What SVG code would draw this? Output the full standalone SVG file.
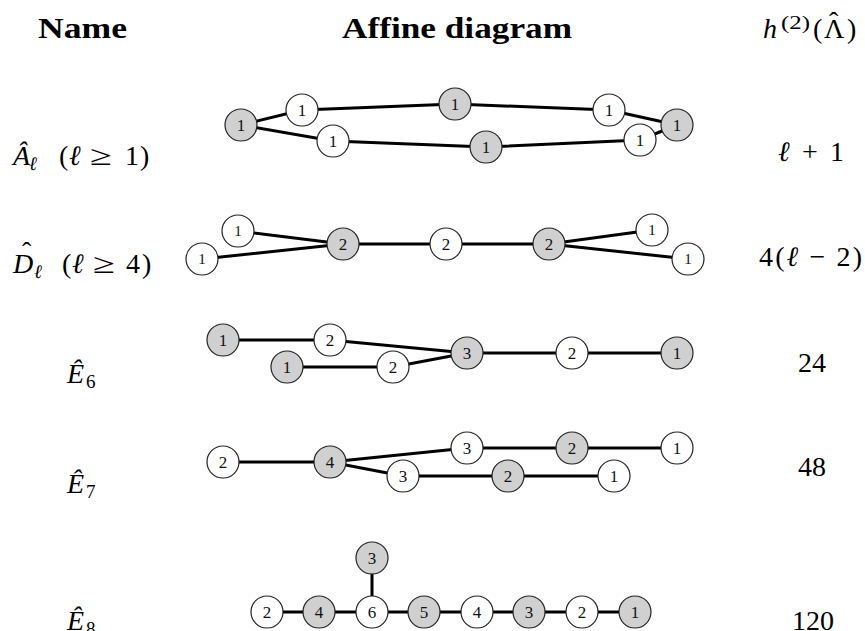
<svg xmlns="http://www.w3.org/2000/svg" width="865" height="631" viewBox="0 0 865 631">
<style>
.hd{font-family:"Liberation Serif","DejaVu Serif",serif;font-weight:bold;font-size:29px;fill:#000}
.m{font-family:"Liberation Serif","DejaVu Serif",serif;font-size:28px;fill:#000}
.i{font-style:italic}
.s{font-size:19px}
.e{stroke:#000;stroke-width:3;fill:none}
.g{fill:#d0d0d0;stroke:#222;stroke-width:1.2}
.w{fill:#fff;stroke:#222;stroke-width:1.2}
.t{font-family:"Liberation Serif","DejaVu Serif",serif;font-size:17px;text-anchor:middle;fill:#111}
.ts{font-size:15px}
</style>
<rect width="865" height="631" fill="#fff"/>
<g id="headers">
<text class="hd" x="38" y="38" textLength="89" lengthAdjust="spacingAndGlyphs">Name</text>
<text class="hd" x="342" y="38" textLength="230" lengthAdjust="spacingAndGlyphs">Affine diagram</text>
<text class="m i" x="763" y="38">h</text>
<text class="m s" x="781" y="29" textLength="29" lengthAdjust="spacingAndGlyphs">(2)</text>
<text class="m" y="38"><tspan x="813">(</tspan><tspan x="824">Λ</tspan><tspan x="847">)</tspan></text>
<text class="m" x="829" y="31">ˆ</text>
</g>
<g id="names">
<text class="m i" x="13" y="165">Â</text>
<text class="m i s" x="29" y="170">ℓ</text>
<text class="m" x="59" y="165">(</text>
<text class="m i" x="69" y="165">ℓ</text>
<text class="m" x="90" y="165" textLength="22" lengthAdjust="spacingAndGlyphs">≥</text>
<text class="m" x="125" y="165">1</text>
<text class="m" x="140" y="165">)</text>
<text class="m i" x="13" y="273">D</text>
<text class="m" x="22" y="261">ˆ</text>
<text class="m i s" x="34" y="278">ℓ</text>
<text class="m" x="62" y="273">(</text>
<text class="m i" x="72" y="273">ℓ</text>
<text class="m" x="93" y="273" textLength="22" lengthAdjust="spacingAndGlyphs">≥</text>
<text class="m" x="126" y="273">4</text>
<text class="m" x="142" y="273">)</text>
<text class="m i" x="67" y="383">Ê</text>
<text class="m s" x="86" y="388">6</text>
<text class="m i" x="67" y="493">Ê</text>
<text class="m s" x="86" y="498">7</text>
<text class="m i" x="67" y="630">Ê</text>
<text class="m s" x="86" y="635">8</text>
</g>
<g id="values">
<text class="m" x="778" y="161" textLength="66" lengthAdjust="spacing"><tspan class="i">ℓ</tspan> + 1</text>
<text class="m" x="759" y="266" textLength="103" lengthAdjust="spacing">4(<tspan class="i">ℓ</tspan> − 2)</text>
<text class="m" x="812" y="372" text-anchor="middle">24</text>
<text class="m" x="812" y="476" text-anchor="middle">48</text>
<text class="m" x="813" y="630" text-anchor="middle">120</text>
</g>
<g id="connectors" class="e">
<path d="M241 125L302 110L455 104L609 110L677 125M241 125L333 141L486 147L640 140L677 125"/>
<path d="M238 231L343 244M202 259L343 244L446 244L549 244L652 230M549 244L688 259"/>
<path d="M223 340L330 340L467 353L572 353L677 353M287 367L393 367L467 353"/>
<path d="M223 462L330 462L467 448L572 448L677 448M330 462L403 476L508 476L614 476"/>
<path d="M267 612L635 612M372 612L372 558"/>
</g>
<g id="A1"><circle class="g" cx="241" cy="125" r="16"/><text class="t" x="241" y="131">1</text></g>
<g id="A2"><circle class="w" cx="302" cy="110" r="16"/><text class="t" x="302" y="116">1</text></g>
<g id="A3"><circle class="g" cx="455" cy="104" r="16"/><text class="t" x="455" y="110">1</text></g>
<g id="A4"><circle class="w" cx="609" cy="110" r="16"/><text class="t" x="609" y="116">1</text></g>
<g id="A5"><circle class="g" cx="677" cy="125" r="16"/><text class="t" x="677" y="131">1</text></g>
<g id="A6"><circle class="w" cx="333" cy="141" r="16"/><text class="t" x="333" y="147">1</text></g>
<g id="A7"><circle class="g" cx="486" cy="147" r="16"/><text class="t" x="486" y="153">1</text></g>
<g id="A8"><circle class="w" cx="640" cy="140" r="16"/><text class="t" x="640" y="146">1</text></g>
<g id="D1"><circle class="w" cx="238" cy="231" r="16"/><text class="t ts" x="238" y="236">1</text></g>
<g id="D2"><circle class="w" cx="202" cy="259" r="16"/><text class="t ts" x="202" y="264">1</text></g>
<g id="D3"><circle class="g" cx="343" cy="244" r="16"/><text class="t" x="343" y="250">2</text></g>
<g id="D4"><circle class="w" cx="446" cy="244" r="16"/><text class="t" x="446" y="250">2</text></g>
<g id="D5"><circle class="g" cx="549" cy="244" r="16"/><text class="t" x="549" y="250">2</text></g>
<g id="D6"><circle class="w" cx="652" cy="230" r="16"/><text class="t ts" x="652" y="235">1</text></g>
<g id="D7"><circle class="w" cx="688" cy="259" r="16"/><text class="t ts" x="688" y="264">1</text></g>
<g id="E6a"><circle class="g" cx="223" cy="340" r="16"/><text class="t" x="223" y="346">1</text></g>
<g id="E6b"><circle class="w" cx="330" cy="340" r="16"/><text class="t" x="330" y="346">2</text></g>
<g id="E6c"><circle class="g" cx="287" cy="367" r="16"/><text class="t" x="287" y="373">1</text></g>
<g id="E6d"><circle class="w" cx="393" cy="367" r="16"/><text class="t" x="393" y="373">2</text></g>
<g id="E6e"><circle class="g" cx="467" cy="353" r="16"/><text class="t" x="467" y="359">3</text></g>
<g id="E6f"><circle class="w" cx="572" cy="353" r="16"/><text class="t" x="572" y="359">2</text></g>
<g id="E6g"><circle class="g" cx="677" cy="353" r="16"/><text class="t" x="677" y="359">1</text></g>
<g id="E7a"><circle class="w" cx="223" cy="462" r="16"/><text class="t" x="223" y="468">2</text></g>
<g id="E7b"><circle class="g" cx="330" cy="462" r="16"/><text class="t" x="330" y="468">4</text></g>
<g id="E7c"><circle class="w" cx="467" cy="448" r="16"/><text class="t" x="467" y="454">3</text></g>
<g id="E7d"><circle class="g" cx="572" cy="448" r="16"/><text class="t" x="572" y="454">2</text></g>
<g id="E7e"><circle class="w" cx="677" cy="448" r="16"/><text class="t" x="677" y="454">1</text></g>
<g id="E7f"><circle class="w" cx="403" cy="476" r="16"/><text class="t" x="403" y="482">3</text></g>
<g id="E7g"><circle class="g" cx="508" cy="476" r="16"/><text class="t" x="508" y="482">2</text></g>
<g id="E7h"><circle class="w" cx="614" cy="476" r="16"/><text class="t" x="614" y="482">1</text></g>
<g id="E8a"><circle class="w" cx="267" cy="612" r="16"/><text class="t" x="267" y="618">2</text></g>
<g id="E8b"><circle class="g" cx="319" cy="612" r="16"/><text class="t" x="319" y="618">4</text></g>
<g id="E8c"><circle class="w" cx="372" cy="612" r="16"/><text class="t" x="372" y="618">6</text></g>
<g id="E8d"><circle class="g" cx="424" cy="612" r="16"/><text class="t" x="424" y="618">5</text></g>
<g id="E8e"><circle class="w" cx="477" cy="612" r="16"/><text class="t" x="477" y="618">4</text></g>
<g id="E8f"><circle class="g" cx="529" cy="612" r="16"/><text class="t" x="529" y="618">3</text></g>
<g id="E8g"><circle class="w" cx="582" cy="612" r="16"/><text class="t" x="582" y="618">2</text></g>
<g id="E8h"><circle class="g" cx="635" cy="612" r="16"/><text class="t" x="635" y="618">1</text></g>
<g id="E8i"><circle class="g" cx="372" cy="558" r="16"/><text class="t" x="372" y="564">3</text></g>
</svg>
